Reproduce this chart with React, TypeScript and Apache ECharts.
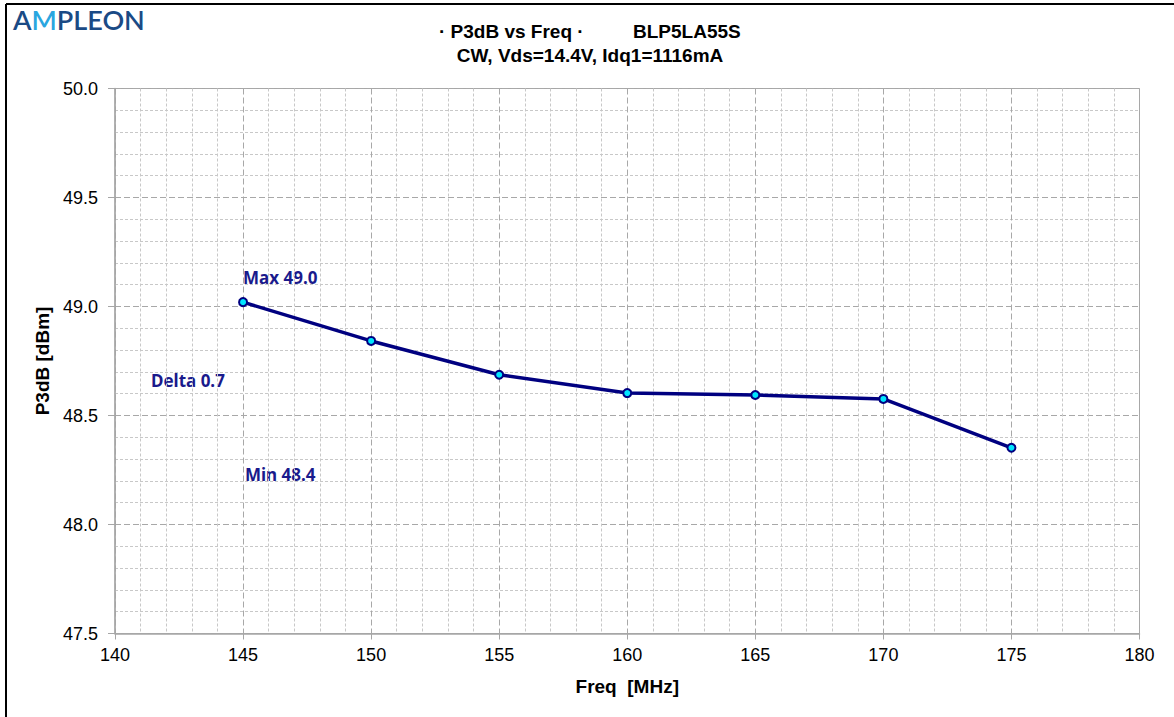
import React, { useEffect, useRef } from "react";
import * as echarts from "echarts";

const freqs = [145, 150, 155, 160, 165, 170, 175];
const p3db = [49.02, 48.842, 48.687, 48.603, 48.594, 48.576, 48.352];
const titleLine1a = "· P3dB vs Freq ·";
const titleLine1b = "BLP5LA55S";
const titleLine2 = "CW, Vds=14.4V, Idq1=1116mA";
const xName = "Freq  [MHz]";
const yName = "P3dB [dBm]";

const maxV = Math.max(...p3db);
const minV = Math.min(...p3db);
const deltaV = maxV - minV;

const FONT = "'Liberation Sans', Arial, sans-serif";
const NAVY = "#000080";
const ANN = "#1a1a8c";

export default function App() {
  const ref = useRef<HTMLDivElement>(null);
  useEffect(() => {
    if (!ref.current) return;
    const chart = echarts.init(ref.current, null, { renderer: "svg" });
    chart.setOption({
      animation: false,
      backgroundColor: "#ffffff",
      grid: {
        left: 115,
        right: 34.5,
        top: 88.5,
        bottom: 83.5,
        show: true,
        borderColor: "#a6a6a6",
        borderWidth: 1,
        backgroundColor: "transparent",
      },
      xAxis: {
        type: "value",
        min: 140,
        max: 180,
        interval: 5,
        name: xName,
        nameLocation: "middle",
        nameGap: 43,
        nameTextStyle: { fontFamily: FONT, fontWeight: "bold", fontSize: 19, color: "#000" },
        axisLine: { show: true, lineStyle: { color: "#a6a6a6", width: 1.5 } },
        axisTick: { show: true, length: 6, lineStyle: { color: "#a6a6a6" } },
        axisLabel: { fontFamily: FONT, fontSize: 18, color: "#000", margin: 12 },
        splitLine: { show: true, lineStyle: { color: "#a8a8a8", type: [6, 3], width: 1 } },
        minorTick: { show: false, splitNumber: 5 },
        minorSplitLine: { show: true, lineStyle: { color: "#c8c8c8", type: [3, 2], width: 1 } },
      },
      yAxis: {
        type: "value",
        min: 47.5,
        max: 50,
        interval: 0.5,
        name: yName,
        nameLocation: "middle",
        nameGap: 62,
        nameRotate: 90,
        nameTextStyle: { fontFamily: FONT, fontWeight: "bold", fontSize: 19, color: "#000" },
        axisLine: { show: true, lineStyle: { color: "#a6a6a6", width: 1.5 } },
        axisTick: { show: true, length: 7, lineStyle: { color: "#a6a6a6" } },
        axisLabel: {
          fontFamily: FONT,
          fontSize: 18,
          color: "#000",
          margin: 17,
          formatter: (v: number) => v.toFixed(1),
        },
        splitLine: { show: true, lineStyle: { color: "#a8a8a8", type: [6, 3], width: 1 } },
        minorTick: { show: false, splitNumber: 5 },
        minorSplitLine: { show: true, lineStyle: { color: "#c8c8c8", type: [3, 2], width: 1 } },
      },
      series: [
        {
          type: "line",
          data: freqs.map((f, i) => [f, p3db[i]]),
          lineStyle: { color: NAVY, width: 3.5 },
          symbol: "circle",
          symbolSize: 8,
          itemStyle: { color: "#00e5ff", borderColor: NAVY, borderWidth: 2 },
          z: 5,
        },
      ],
      graphic: [
        { type: "line", shape: { x1: 6, y1: 4, x2: 1174, y2: 4 }, style: { stroke: "#000", lineWidth: 2 } },
        { type: "line", shape: { x1: 6, y1: 4, x2: 6, y2: 717 }, style: { stroke: "#000", lineWidth: 2 } },
        {
          type: "text",
          x: 13,
          y: 19,
          style: {
            text: "{a|A}{m|M}{a|PLEON}",
            verticalAlign: "middle",
            rich: {
              a: { fontFamily: "Lato, sans-serif", fontSize: 27, fontWeight: 600, fill: "#1a4a85" },
              m: { fontFamily: "Lato, sans-serif", fontSize: 27, fontWeight: 600, fill: "#2aa6df" },
            },
          },
        },
        {
          type: "text",
          x: 439,
          y: 31,
          style: { text: titleLine1a, fontFamily: FONT, fontWeight: "bold", fontSize: 19, fill: "#000", verticalAlign: "middle" },
        },
        {
          type: "text",
          x: 633,
          y: 31,
          style: { text: titleLine1b, fontFamily: FONT, fontWeight: "bold", fontSize: 19, fill: "#000", verticalAlign: "middle" },
        },
        {
          type: "text",
          x: 590,
          y: 55,
          style: { text: titleLine2, fontFamily: FONT, fontWeight: "bold", fontSize: 19, fill: "#000", align: "center", verticalAlign: "middle" },
        },
        {
          type: "text",
          x: 243,
          y: 277,
          style: { text: `Max ${maxV.toFixed(1)}`, fontFamily: "'Noto Sans', sans-serif", fontWeight: "bold", fontSize: 17, fill: ANN, verticalAlign: "middle" },
        },
        {
          type: "text",
          x: 151,
          y: 380,
          style: { text: `Delta ${deltaV.toFixed(1)}`, fontFamily: "'Noto Sans', sans-serif", fontWeight: "bold", fontSize: 17, fill: ANN, verticalAlign: "middle" },
        },
        {
          type: "text",
          x: 245,
          y: 474,
          style: { text: `Min ${minV.toFixed(1)}`, fontFamily: "'Noto Sans', sans-serif", fontWeight: "bold", fontSize: 17, fill: ANN, verticalAlign: "middle" },
        },
      ],
    });
    return () => chart.dispose();
  }, []);
  return <div ref={ref} style={{ position: "absolute", left: 0, top: 0, width: 1174, height: 717 }} />;
}
